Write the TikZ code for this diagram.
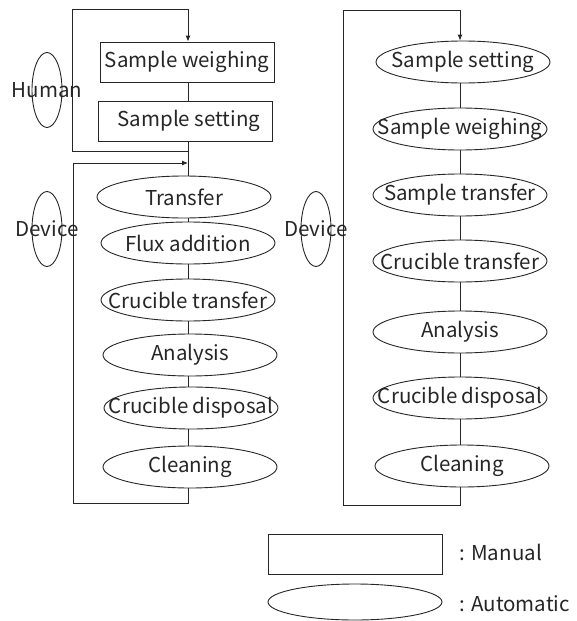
\documentclass[tikz,border=0pt]{standalone}
\usepackage{fontspec}
\setmainfont{Noto Sans CJK JP}
\usetikzlibrary{shapes.geometric,arrows.meta}
\begin{document}
\begin{tikzpicture}[x=1pt,y=-1pt,
  every node/.style={font=\fontsize{20.5}{24}\selectfont, text=black!85},
  every label/.style={font=\fontsize{20.5}{24}\selectfont, text=black!85, inner sep=0pt},
  line/.style={draw=black!85, line width=0.9pt},
  arr/.style={line, -{Latex[length=6pt,width=5pt]}},
  manbox/.style={line, rectangle, minimum width=174pt, minimum height=40pt, inner sep=0pt},
  autoell/.style={line, ellipse, minimum width=174pt, minimum height=42pt, inner sep=0pt},
  tagell/.style={line, ellipse, minimum width=30pt, minimum height=75pt, inner sep=0pt}]
\useasboundingbox (0,0) rectangle (576,621);

% ---- left column ----
\node[manbox] (lw) at (187,62) {Sample weighing};
\node[manbox, label={[xshift=4pt]center:Sample setting}] (ls) at (185,121) {};
\node[autoell, label={center:Transfer}] (lt) at (184,197) {};
\node[autoell, label={center:Flux addition}] (lf) at (188,243) {};
\node[autoell, label={center:Crucible transfer}] (lc) at (188,300) {};
\node[autoell, label={center:Analysis}] (la) at (190,355) {};
\node[autoell, label={center:Crucible disposal}] (ld) at (191,408) {};
\node[autoell, label={center:Cleaning}] (lcl) at (190,467) {};

\coordinate (h1) at (188,151);
\coordinate (h2) at (72,151);
\coordinate (h3) at (72,9);
\coordinate (h4) at (188,9);
\coordinate (d1) at (188,503);
\coordinate (d2) at (73,503);
\coordinate (d3) at (73,163);
\coordinate (d4) at (188,163);

\draw[line] (lw.south -| h1) -- (ls.north -| h1);
\draw[line] (ls.south -| h1) -- (lt.north -| h1);
\draw[arr] (ls.south -| h1) -- (h1) -- (h2) -- (h3) -- (h4) -- (lw.north -| h4);
\draw[arr] (lcl.south -| d1) -- (d1) -- (d2) -- (d3) -- (d4);
\draw[line] (lt.south -| h1) -- (lf.north -| h1);
\draw[line] (lf.south -| h1) -- (lc.north -| h1);
\draw[line] (lc.south -| h1) -- (la.north -| h1);
\draw[line] (la.south -| h1) -- (ld.north -| h1);
\draw[line] (ld.south -| h1) -- (lcl.north -| h1);

\node[tagell, label={center:Human}] (hum) at (47,90) {};
\node[tagell, label={center:Device}] (dev1) at (47,229) {};

% ---- right column ----
\node[autoell, label={center:Sample setting}] (rs) at (463,62) {};
\node[autoell, label={center:Sample weighing}] (rw) at (460,129) {};
\node[autoell, label={center:Sample transfer}] (rt) at (460,195) {};
\node[autoell, label={center:Crucible transfer}] (rc) at (460,261) {};
\node[autoell, label={center:Analysis}] (ra) at (460,332) {};
\node[autoell, label={center:Crucible disposal}] (rd) at (460,398) {};
\node[autoell, label={center:Cleaning}] (rcl) at (462,466) {};

\coordinate (r1) at (460,505);
\coordinate (r2) at (343,505);
\coordinate (r3) at (343,10);
\coordinate (r4) at (460,10);

\draw[arr] (rcl.south -| r1) -- (r1) -- (r2) -- (r3) -- (r4) -- (rs.north -| r4);
\draw[line] (rs.south -| r1) -- (rw.north -| r1);
\draw[line] (rw.south -| r1) -- (rt.north -| r1);
\draw[line] (rt.south -| r1) -- (rc.north -| r1);
\draw[line] (rc.south -| r1) -- (ra.north -| r1);
\draw[line] (ra.south -| r1) -- (rd.north -| r1);
\draw[line] (rd.south -| r1) -- (rcl.north -| r1);

\node[tagell, label={center:Device}] (dev2) at (316,229) {};

% ---- legend ----
\node[manbox] (legm) at (355,554) {};
\node[anchor=west] (legmt) at (456,552) {: Manual};
\node[autoell, minimum height=36pt] (lega) at (355,602) {};
\node[anchor=west] (legat) at (456,604) {: Automatic};
\end{tikzpicture}
\end{document}
